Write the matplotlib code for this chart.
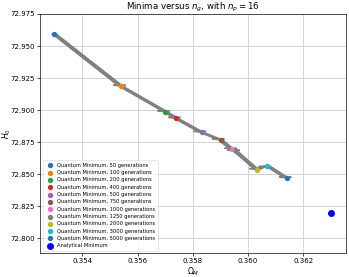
import matplotlib
matplotlib.use("Agg")
import matplotlib.pyplot as plt

generations = [50, 100, 200, 400, 500, 750, 1000, 1250, 2000, 3000, 5000]
omega_m = [0.35298, 0.35540, 0.35701, 0.35740, 0.35832, 0.35901, 0.35941, 0.35955, 0.36031, 0.36069, 0.36140]
h0 = [72.9596, 72.9187, 72.8988, 72.8936, 72.8827, 72.8768, 72.8695, 72.8680, 72.8537, 72.8568, 72.8470]
analytical_omega = 0.36300
analytical_h0 = 72.8201

colors = ['C0', 'C1', 'C2', 'C3', 'C4', 'C5', 'C6', 'C7', 'C8', 'C9', 'C0']

fig = plt.figure(figsize=(3.49, 2.77), dpi=100)
ax = fig.add_axes([40/349, (277-253.3)/277, (346-40)/349, (253.3-14)/277])

for i in range(len(omega_m) - 1):
    ax.arrow(omega_m[i], h0[i], omega_m[i+1]-omega_m[i], h0[i+1]-h0[i],
             width=0.00015, head_width=0.00045, head_length=0.0008,
             length_includes_head=True, color='gray', zorder=2)

for g, x, y, c in zip(generations, omega_m, h0, colors):
    ax.scatter([x], [y], s=8, color=c, zorder=3,
               label=f'Quantum Minimum, {g} generations')
ax.scatter([analytical_omega], [analytical_h0], s=16, color='blue', zorder=3,
           label='Analytical Minimum')

ax.set_xlim(0.352474, 0.36354)
ax.set_ylim(72.7884, 72.975)
ax.set_xticks([0.354, 0.356, 0.358, 0.360, 0.362])
ax.set_yticks([72.800, 72.825, 72.850, 72.875, 72.900, 72.925, 72.950, 72.975])
ax.xaxis.set_major_formatter(matplotlib.ticker.FormatStrFormatter('%.3f'))
ax.yaxis.set_major_formatter(matplotlib.ticker.FormatStrFormatter('%.3f'))
ax.tick_params(labelsize=5, length=2, width=0.5, pad=1.5)
ax.grid(True, color='#d3d3d3', linewidth=0.7)
ax.set_axisbelow(True)
for s in ax.spines.values():
    s.set_linewidth(0.6)
    s.set_color('#333333')

ax.set_title('Minima versus $n_g$, with $n_p = 16$', fontsize=6.2, pad=2)
ax.set_xlabel(r'$\Omega_M$', fontsize=5.5, labelpad=1)
ax.set_ylabel(r'$H_0$', fontsize=5.5)
ax.yaxis.set_label_coords(-0.088, 0.5)

leg = ax.legend(loc='lower left', fontsize=3.7, markerscale=1.0, handletextpad=0.3,
                labelspacing=0.45, borderpad=0.5, framealpha=0.8)
leg.get_frame().set_linewidth(0.4)

fig.savefig('out.png', dpi=100)
